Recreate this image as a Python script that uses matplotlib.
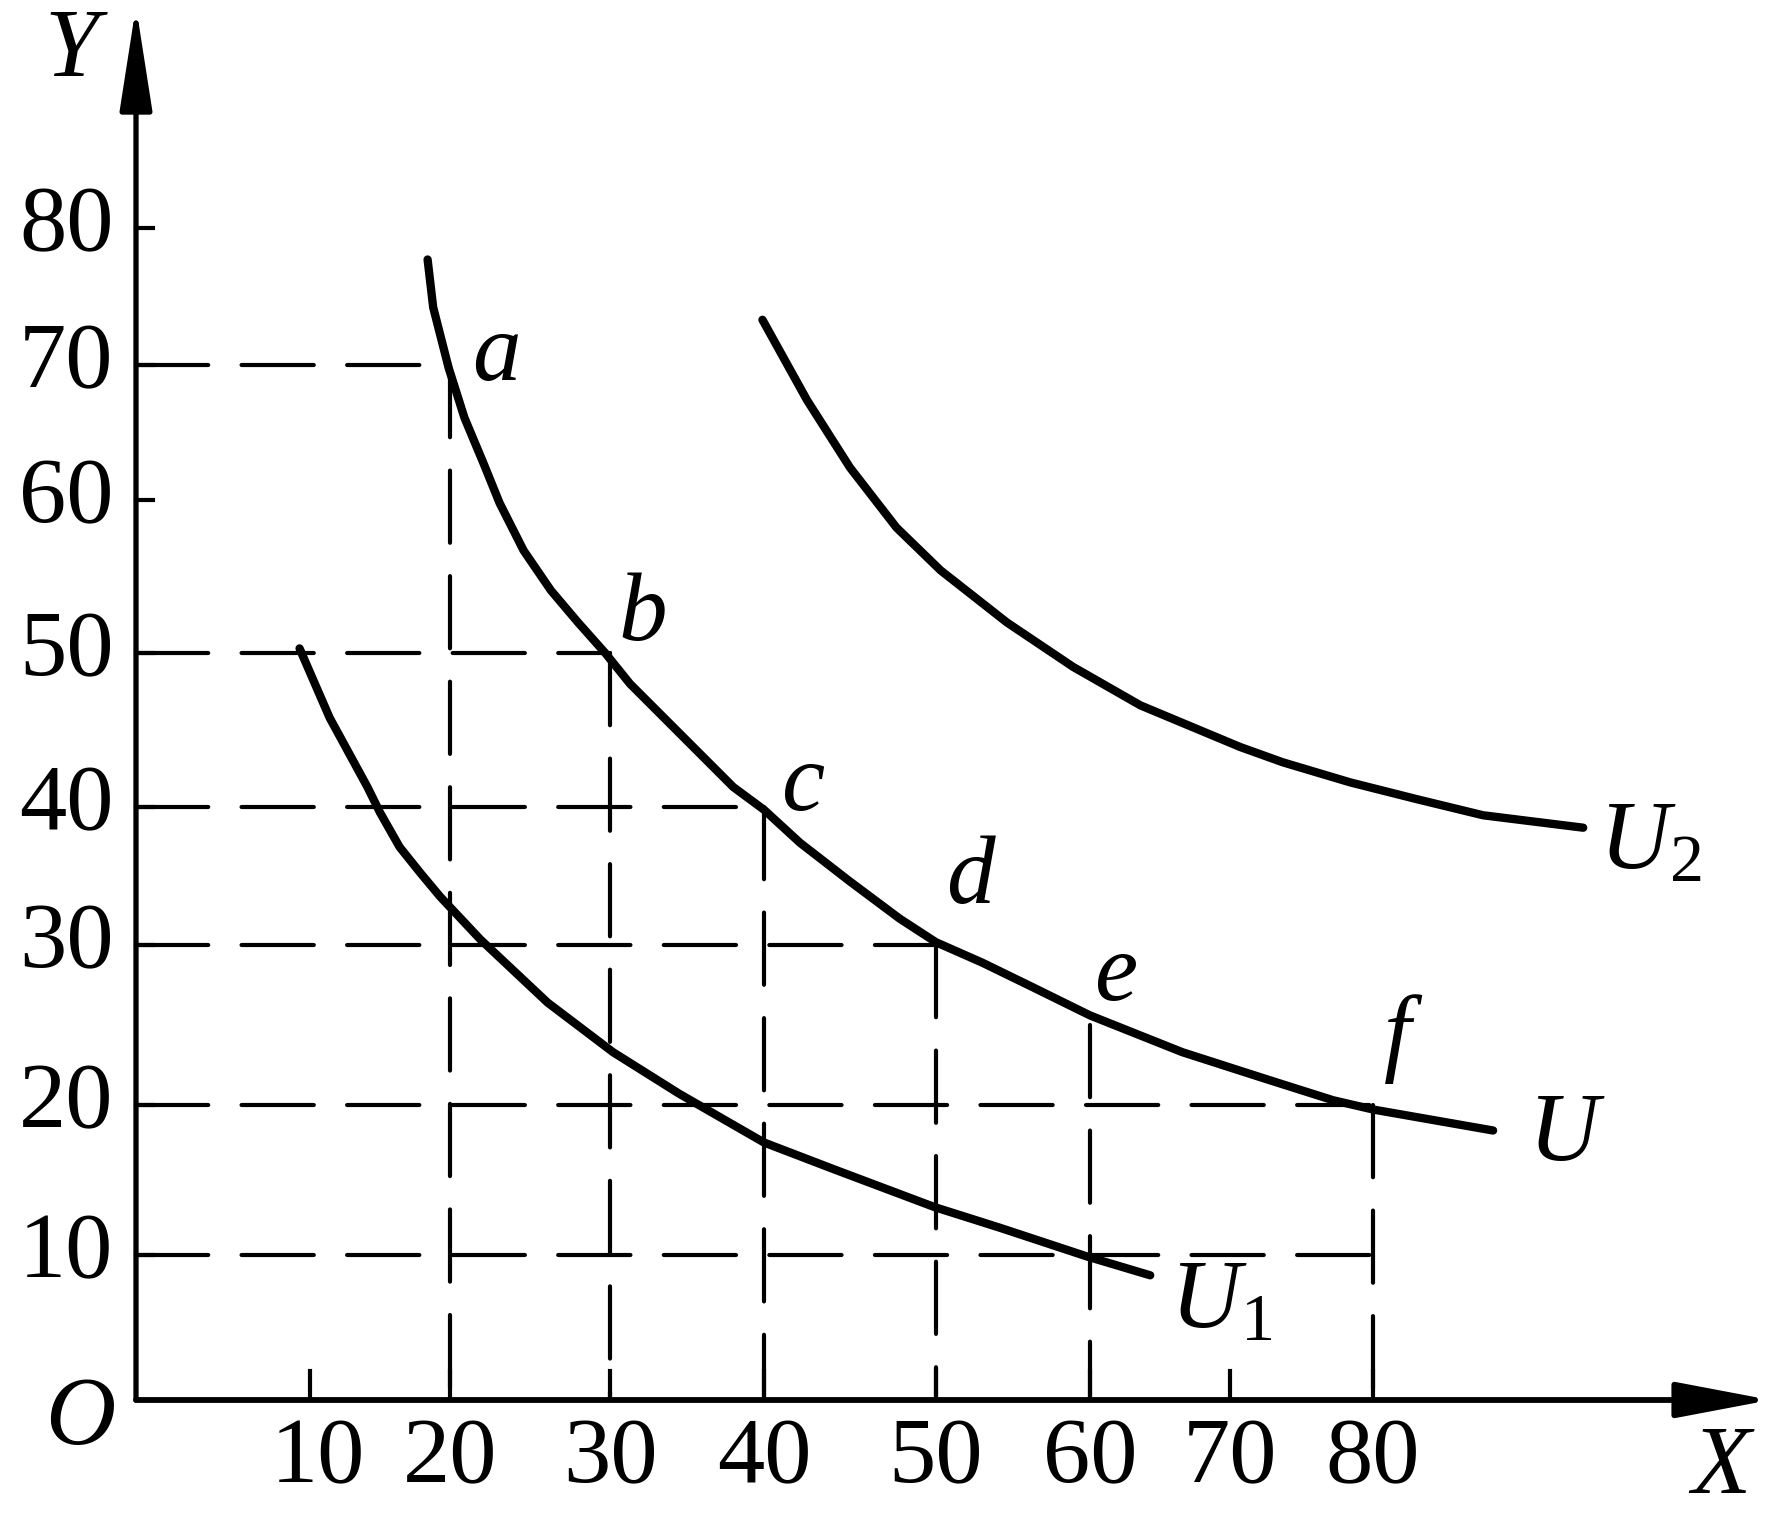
import matplotlib
matplotlib.use("Agg")
import matplotlib.pyplot as plt
import numpy as np

plt.rcParams['font.family'] = ['Liberation Serif', 'DejaVu Serif']
plt.rcParams['mathtext.fontset'] = 'custom'
plt.rcParams['mathtext.it'] = 'Liberation Serif:italic'
plt.rcParams['mathtext.rm'] = 'Liberation Serif'
plt.rcParams['lines.scale_dashes'] = False

# indifference curves, points
u_x = [18.4, 18.8, 19.9, 20.9, 22.1, 23.1, 24.6, 26.3, 28.0, 29.7, 31.3, 34.1,
       35.8, 38.0, 40.0, 42.1, 45.0, 47.9, 50.0, 53.0, 56.2, 60.0, 64.3, 66.6,
       72.6, 77.2, 80.0, 84.2, 88.4]
u_y = [77.7, 74.2, 69.8, 66.1, 62.7, 59.8, 56.7, 54.1, 52.0, 50.0, 48.0, 45.2,
       43.5, 41.3, 39.8, 37.4, 34.6, 31.9, 30.2, 28.9, 27.4, 25.6, 24.1, 23.3,
       21.6, 20.3, 19.7, 19.0, 18.3]
u1_x = [9.4, 11.4, 14.1, 15.0, 16.4, 17.9, 19.3, 21.9, 26.1, 30.2, 34.5, 40.0,
        44.1, 49.9, 54.2, 59.8, 64.3]
u1_y = [50.3, 45.8, 41.3, 39.6, 37.1, 35.2, 33.5, 30.4, 26.4, 23.3, 20.7, 17.5,
        15.7, 13.2, 11.8, 9.9, 8.6]
u2_x = [39.9, 42.5, 45.0, 47.7, 50.3, 54.6, 58.9, 63.6, 70.7, 73.7, 78.4, 83.1,
        87.7, 94.7]
u2_y = [73.3, 67.4, 62.4, 58.2, 55.4, 52.0, 49.1, 46.6, 43.9, 42.9, 41.6, 40.5,
        39.4, 38.5]

# bundles a..f on curve U
pt_names = ['a', 'b', 'c', 'd', 'e', 'f']
pt_x = [20, 30, 40, 50, 60, 80]
pt_y = [70, 50, 40, 30, 25, 20]

x_ticks = [10, 20, 30, 40, 50, 60, 70, 80]
y_ticks = [10, 20, 30, 40, 50, 60, 70, 80]

# the printed axes are hand drawn: tick spacing is not even, so the
# scale goes through the pixel position of every printed tick
X_SCALE_D = [-20, 0, 10, 20, 30, 40, 50, 60, 70, 80, 130]
X_SCALE_P = [-212, 136, 310, 450, 610, 764, 936, 1090, 1230, 1373, 2088]
Y_SCALE_D = [-20, 0, 10, 20, 30, 40, 50, 60, 70, 80, 120]
Y_SCALE_P = [-174, 116, 261, 411, 571, 709, 863, 1016, 1151, 1288, 1836]


def fwd_x(v):
    return np.interp(v, X_SCALE_D, X_SCALE_P)


def inv_x(v):
    return np.interp(v, X_SCALE_P, X_SCALE_D)


def fwd_y(v):
    return np.interp(v, Y_SCALE_D, Y_SCALE_P)


def inv_y(v):
    return np.interp(v, Y_SCALE_P, Y_SCALE_D)


def main():
    fig = plt.figure(figsize=(17.8, 15.16), dpi=100)
    ax = fig.add_axes([0, 0, 1, 1])
    ax.set_xscale('function', functions=(fwd_x, inv_x))
    ax.set_yscale('function', functions=(fwd_y, inv_y))
    ax.set_xlim(float(inv_x(0)), float(inv_x(1780)))
    ax.set_ylim(float(inv_y(0)), float(inv_y(1516)))
    ax.axis('off')

    dash = dict(color='black', lw=3.0, dashes=(52, 24), dash_capstyle='round')
    # dashed guides from the bundles to the axes
    for px, py in zip(pt_x, pt_y):
        if px != 60:
            ax.plot([0, px], [py, py], **dash)
        ax.plot([px, px], [py, 0], **dash)
    ax.plot([0, 80], [10, 10], **dash)

    # curves
    for cx, cy in [(u_x, u_y), (u1_x, u1_y), (u2_x, u2_y)]:
        ax.plot(cx, cy, color='black', lw=6, solid_capstyle='round',
                solid_joinstyle='round')

    # axes with arrows
    ax.annotate('', xy=(0, 96.2), xytext=(0, 0),
                arrowprops=dict(arrowstyle='-|>,head_length=3.2,head_width=0.5',
                                mutation_scale=20, lw=3.8, color='black',
                                shrinkA=0, shrinkB=0))
    ax.annotate('', xy=(107.8, 0), xytext=(0, 0),
                arrowprops=dict(arrowstyle='-|>,head_length=2.9,head_width=0.55',
                                mutation_scale=20, lw=4.2, color='black',
                                shrinkA=0, shrinkB=0))

    # ticks and labels
    for t in x_ticks:
        ax.plot([t, t], [0, 2.0], color='black', lw=3)
        ax.text(t + (0.6 if t == 10 else 0), -4.1, str(t), fontsize=68,
                ha='center', va='center')
    for t in y_ticks:
        ax.plot([0, 1.0], [t, t], color='black', lw=3)
        ax.text(-1.3, t, str(t), fontsize=68, ha='right', va='center')

    lab = dict(fontsize=70, style='italic', ha='center', va='center')
    ax.text(-3.7, 92.8, 'Y', **lab)
    ax.text(-3.2, -1.4, 'O', **lab)
    ax.text(104.3, -4.8, 'X', **lab)

    lab_x = [22.9, 32.1, 42.3, 52.2, 61.9, 81.7]
    lab_y = [70.6, 52.4, 41.3, 34.7, 28.0, 24.1]
    for name, lx, ly in zip(pt_names, lab_x, lab_y):
        ax.text(lx, ly, name, **lab)

    ax.text(93.3, 17.9, 'U', **lab)
    ax.text(65.7, 6.6, '$U_1$', fontsize=70, ha='left', va='center')
    ax.text(95.8, 37.2, '$U_2$', fontsize=70, ha='left', va='center')

    fig.savefig('out.png', dpi=100, facecolor='white')


if __name__ == "__main__":
    main()
